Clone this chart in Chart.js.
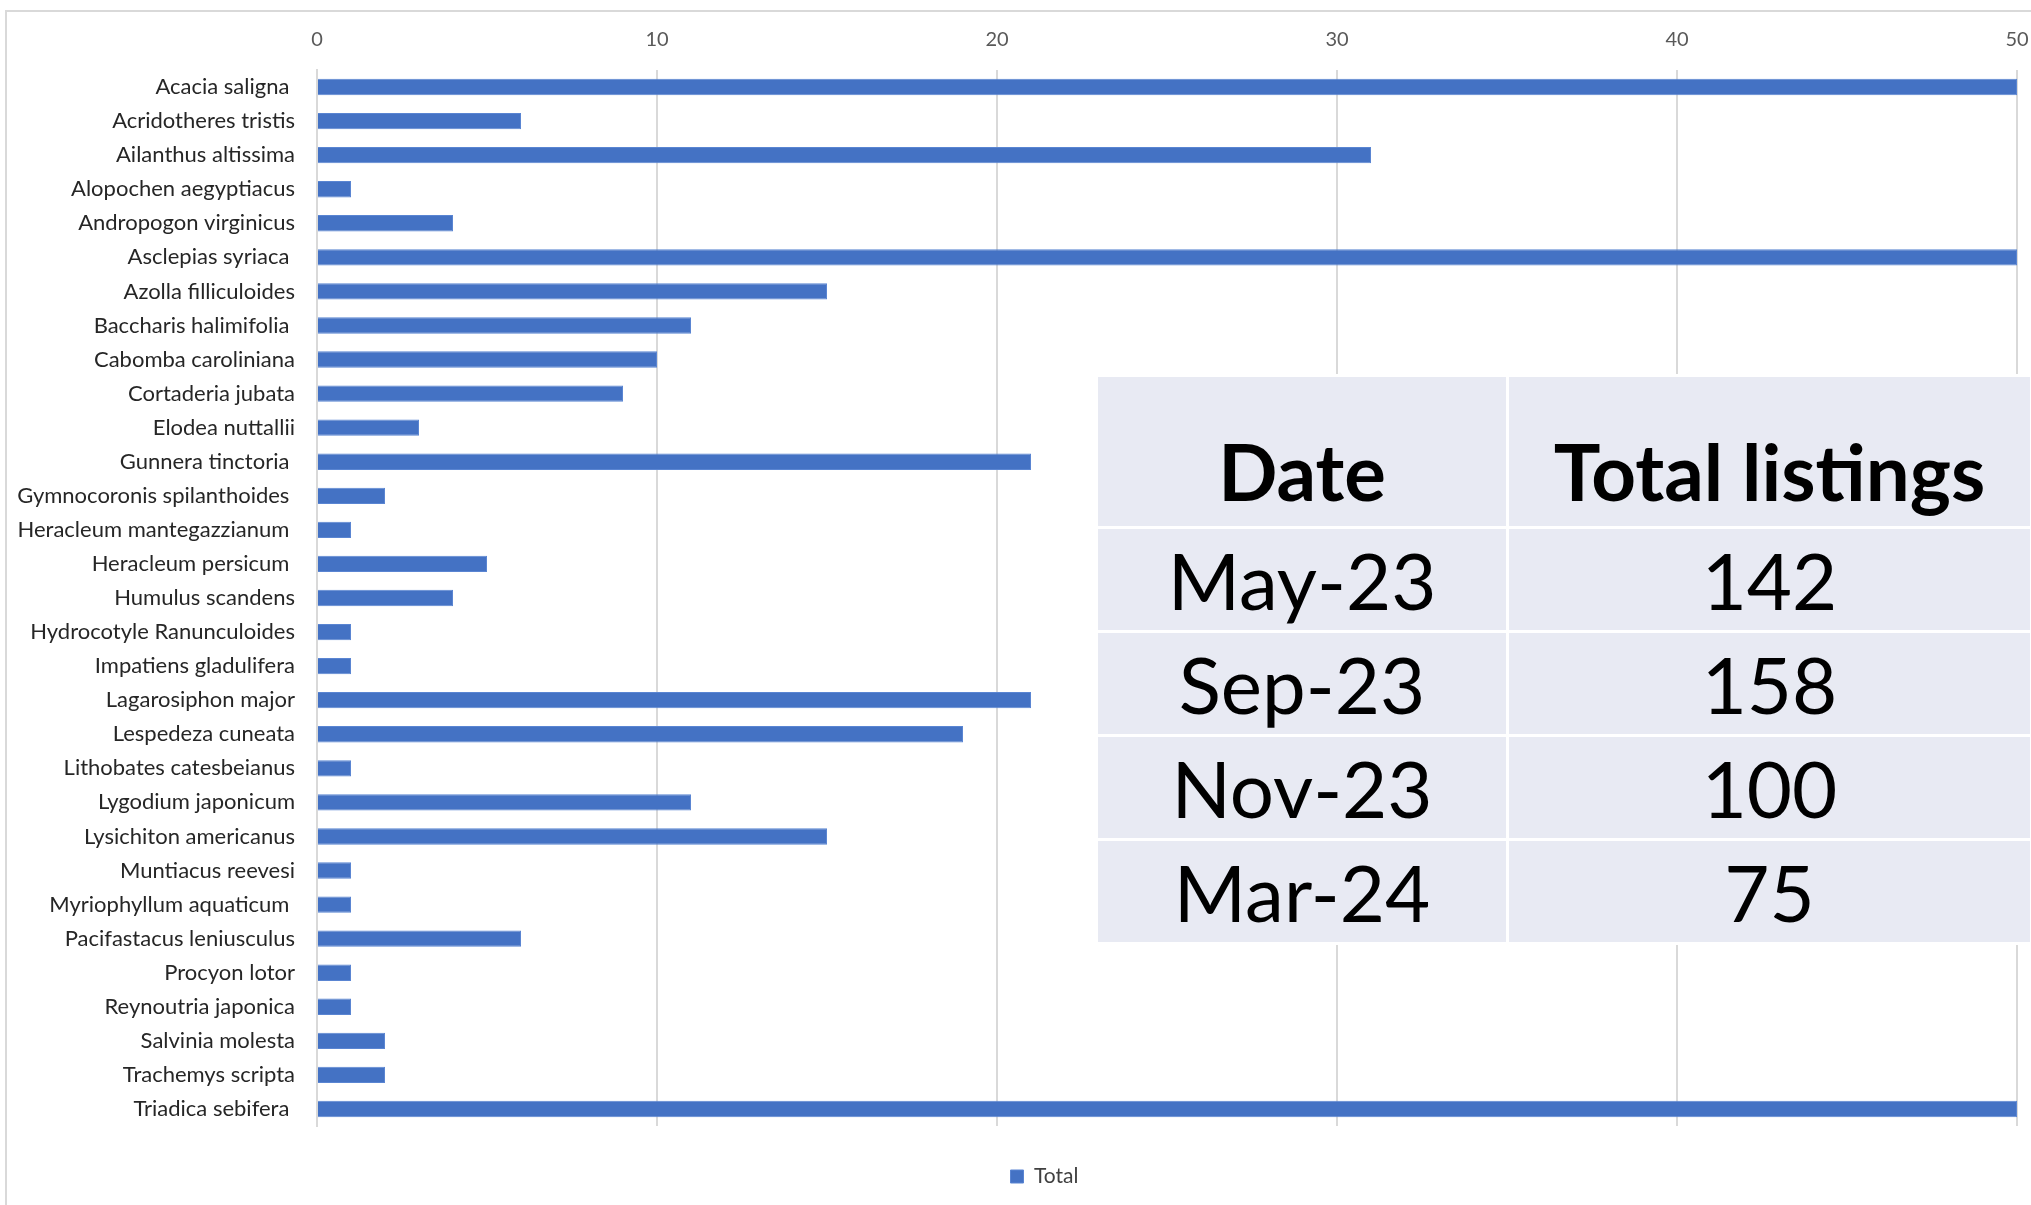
<!DOCTYPE html>
<html>
<head>
<meta charset="utf-8">
<script src="https://cdn.jsdelivr.net/npm/chart.js@4.4.0/dist/chart.umd.min.js"></script>
<style>
  html, body { margin: 0; padding: 0; background: #fff; overflow: hidden; }
  #wrap { position: relative; width: 2031px; height: 1205px; overflow: hidden; }
  #frame { position: absolute; left: 5px; top: 10px; width: 2040px; height: 1210px;
           border: 2px solid #d9d9d9; box-sizing: border-box; }
  canvas { position: absolute; left: 0; top: 0; }
  #listings { position: absolute; left: 1095px; top: 374px; width: 938px;
              border-collapse: collapse; font-family: Lato, "Open Sans", sans-serif; color: #000; }
  #listings td, #listings th { background: #e8eaf3; border: 3px solid #fff; text-align: center; padding: 0; }
  #listings th { height: 141px; font-size: 78px; font-weight: 700; vertical-align: bottom; padding-bottom: 8px; }
  #listings td { height: 101px; font-size: 78px; font-weight: 400; }
  #listings .c1 { width: 408px; }
</style>
</head>
<body>
<div id="wrap">
  <div id="frame"></div>
  <canvas id="chart" width="2031" height="1205"></canvas>
  <table id="listings"></table>
</div>
<script>
// species along the category axis (trailing spaces as in the source sheet)
const species = [
  'Acacia saligna ', 'Acridotheres tristis', 'Ailanthus altissima', 'Alopochen aegyptiacus',
  'Andropogon virginicus', 'Asclepias syriaca ', 'Azolla filliculoides', 'Baccharis halimifolia ',
  'Cabomba caroliniana', 'Cortaderia jubata', 'Elodea nuttallii', 'Gunnera tinctoria ',
  'Gymnocoronis spilanthoides ', 'Heracleum mantegazzianum ', 'Heracleum persicum ', 'Humulus scandens',
  'Hydrocotyle Ranunculoides', 'Impatiens gladulifera', 'Lagarosiphon major', 'Lespedeza cuneata',
  'Lithobates catesbeianus', 'Lygodium japonicum', 'Lysichiton americanus', 'Muntiacus reevesi',
  'Myriophyllum aquaticum ', 'Pacifastacus leniusculus', 'Procyon lotor', 'Reynoutria japonica',
  'Salvinia molesta', 'Trachemys scripta', 'Triadica sebifera '
];
const totals = [
  50, 6, 31, 1,
  4, 50, 15, 11,
  10, 9, 3, 21,
  2, 1, 5, 4,
  1, 1, 21, 19,
  1, 11, 15, 1,
  1, 6, 1, 1,
  2, 2, 50
];
const xTicks = [0, 10, 20, 30, 40, 50];

// overlay table
const tableDates = ['May-23', 'Sep-23', 'Nov-23', 'Mar-24'];
const tableListings = [142, 158, 100, 75];

const tbl = document.getElementById('listings');
let html = '<tr><th class="c1">Date</th><th>Total listings</th></tr>';
tableDates.forEach((d, i) => {
  html += '<tr><td class="c1">' + d + '</td><td>' + tableListings[i] + '</td></tr>';
});
tbl.innerHTML = html;

// nudge the legend a little right, like the original
const legendShift = {
  id: 'legendShift',
  afterLayout(chart) {
    if (chart.legend) {
      chart.legend.left += 36;
      chart.legend.right += 36;
    }
  }
};

const ctx = document.getElementById('chart');
new Chart(ctx, {
  type: 'bar',
  data: {
    labels: species,
    datasets: [{
      label: 'Total',
      data: totals,
      backgroundColor: '#4472c4',
      borderColor: '#5a85d2',
      borderWidth: 1,
      barPercentage: 0.48,
      categoryPercentage: 1
    }]
  },
  plugins: [legendShift],
  options: {
    indexAxis: 'y',
    responsive: false,
    animation: false,
    layout: { padding: { top: 0, right: 14, bottom: 8, left: 0 } },
    plugins: {
      legend: {
        position: 'bottom',
        labels: {
          boxWidth: 13, boxHeight: 13, padding: 40,
          color: '#404040',
          font: { family: 'Lato', size: 21 }
        }
      },
      tooltip: { enabled: false }
    },
    scales: {
      x: {
        position: 'top',
        min: 0, max: 50,
        afterBuildTicks: (scale) => { scale.ticks = xTicks.map(v => ({ value: v })); },
        afterFit: (scale) => { scale.height = 70; scale.paddingLeft = 0; scale.paddingRight = 0; },
        grid: { color: '#d9d9d9', lineWidth: 2, drawTicks: false },
        border: { display: false },
        ticks: { padding: 18, color: '#595959', font: { family: 'Lato', size: 20 } }
      },
      y: {
        afterFit: (scale) => { scale.width = 317; },
        grid: { display: false },
        border: { display: true, color: '#d9d9d9', width: 2 },
        ticks: { padding: 14, color: '#262626', autoSkip: false, font: { family: 'Lato', size: 22 } }
      }
    }
  }
});
</script>
</body>
</html>
